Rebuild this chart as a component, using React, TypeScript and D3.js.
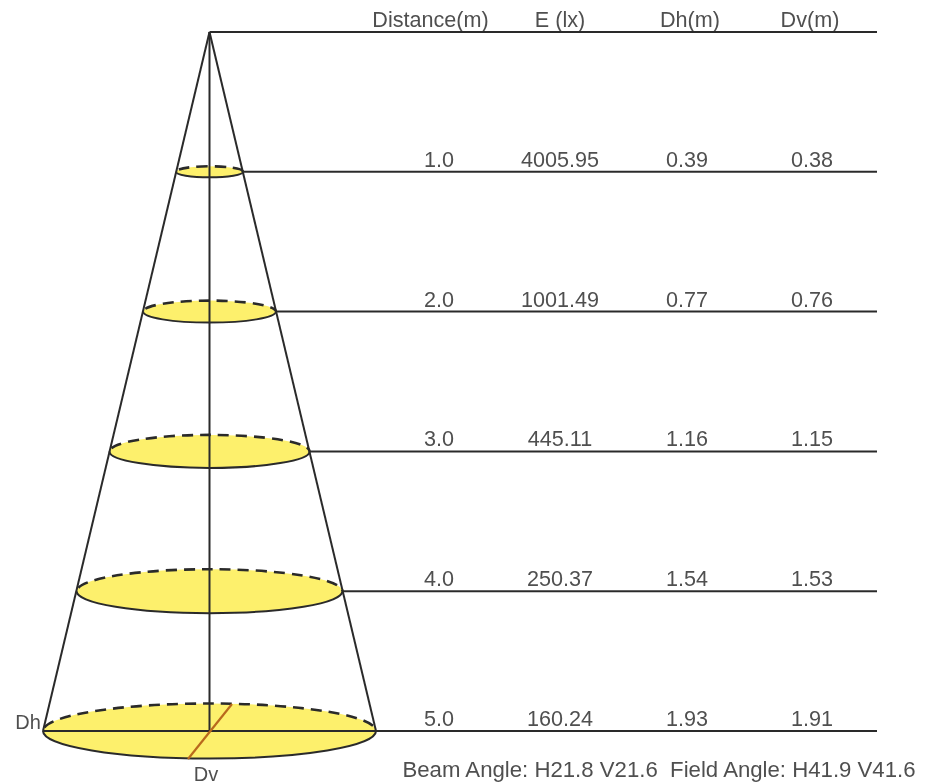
import React from "react";
import * as d3 from "d3";

const distances = ["1.0", "2.0", "3.0", "4.0", "5.0"];
const illuminance = ["4005.95", "1001.49", "445.11", "250.37", "160.24"];
const dh = ["0.39", "0.77", "1.16", "1.54", "1.93"];
const dv = ["0.38", "0.76", "1.15", "1.53", "1.91"];
const distanceValues = [1, 2, 3, 4, 5];
const headers = ["Distance(m)", "E (lx)", "Dh(m)", "Dv(m)"];
const footer = "Beam Angle: H21.8 V21.6\u00a0\u00a0Field Angle: H41.9 V41.6";

const FONT = "Liberation Sans, Arial, sans-serif";
const INK = "#2b2b2b";
const TEXT = "#505050";

export default function App() {
  const y = d3.scaleLinear().domain([0, 5]).range([32, 731]);
  const w = d3.scaleLinear().domain([0, 1.93]).range([0, 166.5]);
  const h = d3.scaleLinear().domain([0, 5]).range([0, 27.5]);
  const x0 = 209.5;
  const headerX = [430.5, 560, 690, 810];
  const cols = [439, 560, 687, 812];
  const fs = 21.6;
  return (
    <svg width={928} height={784} style={{ position: "absolute", left: 0, top: 0, background: "#fff" }} fontFamily={FONT}>
      <defs>
        <filter id="soft" x="-5%" y="-5%" width="110%" height="110%">
          <feGaussianBlur stdDeviation="0.45" />
        </filter>
      </defs>
      <g filter="url(#soft)">
        {headers.map((t, i) => (
          <text key={t} x={headerX[i]} y={27} textAnchor="middle" fontSize={fs} fill={TEXT}>{t}</text>
        ))}
        <line x1={x0} y1={32} x2={877} y2={32} stroke={INK} strokeWidth={2} />
        {distanceValues.map((d, i) => {
          const cy = y(d);
          const rx = w(+dh[i]);
          const ry = h(d);
          return (
            <g key={d}>
              <ellipse cx={x0} cy={cy} rx={rx} ry={ry} fill="#fdf06c" />
              <path d={`M${x0 - rx},${cy}A${rx},${ry} 0 0 0 ${x0 + rx},${cy}`} fill="none" stroke={INK} strokeWidth={2} />
              <path d={`M${x0 - rx},${cy}A${rx},${ry} 0 0 1 ${x0 + rx},${cy}`} fill="none" stroke={INK} strokeWidth={2.6} strokeDasharray="11 7" strokeDashoffset={-4} />
              <line x1={i === 4 ? x0 - rx : x0 + rx} y1={cy} x2={877} y2={cy} stroke={INK} strokeWidth={2} />
              <text x={cols[0]} y={cy - 5} textAnchor="middle" fontSize={fs} fill={TEXT}>{distances[i]}</text>
              <text x={cols[1]} y={cy - 5} textAnchor="middle" fontSize={fs} fill={TEXT}>{illuminance[i]}</text>
              <text x={cols[2]} y={cy - 5} textAnchor="middle" fontSize={fs} fill={TEXT}>{dh[i]}</text>
              <text x={cols[3]} y={cy - 5} textAnchor="middle" fontSize={fs} fill={TEXT}>{dv[i]}</text>
            </g>
          );
        })}
        <line x1={x0} y1={32} x2={x0 - w(1.93)} y2={731} stroke={INK} strokeWidth={2} />
        <line x1={x0} y1={32} x2={x0 + w(1.93)} y2={731} stroke={INK} strokeWidth={2} />
        <line x1={x0} y1={32} x2={x0} y2={731} stroke={INK} strokeWidth={2} />
        <line x1={232} y1={704} x2={188} y2={759} stroke="#b9691c" strokeWidth={2.2} />
        <text x={28} y={729} textAnchor="middle" fontSize={20} fill={TEXT}>Dh</text>
        <text x={206} y={781} textAnchor="middle" fontSize={20} fill={TEXT}>Dv</text>
        <text x={659} y={777} textAnchor="middle" fontSize={22.2} fill={TEXT}>{footer}</text>
      </g>
    </svg>
  );
}
